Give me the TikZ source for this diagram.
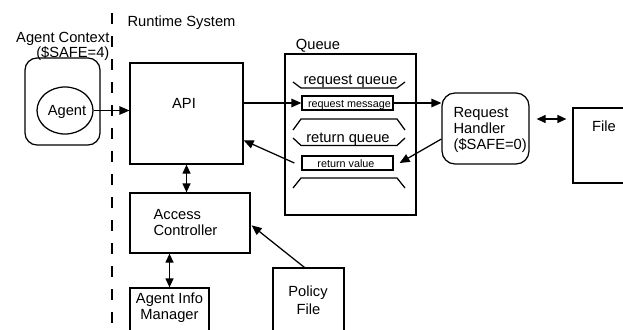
\documentclass[tikz,border=0pt]{standalone}
\usepackage{fontspec}
\setmainfont{Liberation Sans}
\usetikzlibrary{arrows.meta,shapes.geometric,calc}
\begin{document}
\begin{tikzpicture}[x=1pt,y=-1pt,
  line width=1.25pt,
  box/.style={draw, rectangle, inner sep=0pt},
  rbox/.style={draw, rectangle, rounded corners=13pt, inner sep=0pt},
  txt/.style={font=\fontsize{14.7}{16}\selectfont, inner sep=0pt, anchor=base},
  ltxt/.style={txt, anchor=base west},
  rtxt/.style={txt, anchor=base east},
  stxt/.style={font=\fontsize{10.8}{12}\selectfont, inner sep=0pt, anchor=base},
  arr/.style={-{Triangle[length=10pt,width=8.5pt]}},
  darr/.style={{Triangle[length=9pt,width=8pt]}-{Triangle[length=9pt,width=8pt]}},
]
\useasboundingbox (0,0) rectangle (623,329);
\clip (0,0) rectangle (623,329);

% boundary of runtime system
\coordinate (dtop) at (112,13);
\coordinate (dbot) at (112,329);
\draw[dash pattern=on 11pt off 12pt] (dtop) -- (dbot);
\node[ltxt] (rt) at (127,26.5) {Runtime System};

% agent context
\node[rtxt] (ctx1) at (110,42) {Agent Context};
\node[rtxt] (ctx2) at (110,57) {(\$SAFE=4)};
\node[rbox, rounded corners=12pt, minimum width=75pt, minimum height=87pt] (ctx) at (62.5,101.5) {};
\node[draw, ellipse, minimum width=56pt, minimum height=47pt, inner sep=0pt] (agent) at (65,110.5) {};
\node[txt] (agentt) at (67,115.5) {Agent};

% API
\node[box, minimum width=113pt, minimum height=101pt] (api) at (186.5,113.5) {};
\node[txt] (apit) at (184,108.3) {API};

% Queue
\node[txt] (queuet) at (318,49.5) {Queue};
\node[box, minimum width=131pt, minimum height=161pt] (queue) at (350.5,134.5) {};
\draw (293,82) -- (301,88) -- (397,88) -- (405,82);
\node[txt] (rqt) at (350.5,84) {request queue};
\node[box, minimum width=91pt, minimum height=14pt] (reqmsg) at (347.5,103) {};
\node[stxt] (reqmsgt) at (349.5,107) {request message};
\draw (293,130) -- (301,119) -- (397,119) -- (405,130);
\node[txt] (retqt) at (348,142) {return queue};
\draw (293,138) -- (301,145.5) -- (397,145.5) -- (405,138);
\node[box, minimum width=91pt, minimum height=14pt] (retval) at (347.5,163) {};
\node[stxt] (retvalt) at (346,167.5) {return value};
\draw (293,188) -- (301,178) -- (397,178) -- (405,188);

% Request handler
\node[rbox, minimum width=87pt, minimum height=71pt] (handler) at (485.5,128.5) {};
\node[ltxt] (h1) at (453,117) {Request};
\node[ltxt] (h2) at (453,133) {Handler};
\node[ltxt] (h3) at (453,149) {(\$SAFE=0)};

% File
\node[box, minimum width=60pt, minimum height=75pt] (file) at (603,145.5) {};
\node[txt] (filet) at (604,131.7) {File};

% Access controller
\node[box, minimum width=120pt, minimum height=60pt] (ac) at (190,223) {};
\node[ltxt] (ac1) at (153,219) {Access};
\node[ltxt] (ac2) at (153,235) {Controller};

% Agent info manager
\node[box, minimum width=79pt, minimum height=52pt] (aim) at (169.5,314) {};
\node[txt] (aim1) at (169.5,303) {Agent Info};
\node[txt] (aim2) at (169.5,319.5) {Manager};

% Policy file
\node[box, minimum width=71pt, minimum height=72pt] (policy) at (308.5,304) {};
\node[txt] (p1) at (308,296) {Policy};
\node[txt] (p2) at (308.5,314) {File};

% connectors
\draw[arr] (agent.east) -- (agent.east -| api.west);
\draw[arr] (reqmsg.west -| api.east) -- (reqmsg.west);
\draw[arr] (reqmsg.east) -- (reqmsg.east -| handler.west);
\draw[arr] ([yshift=-10.5pt]handler.west) -- ([xshift=6pt]retval.east);
\draw[arr] ([xshift=-7pt]retval.west) -- ($(api.north east)!0.762!(api.south east)$);
\draw[darr] (api.south) -- (api.south |- ac.north);
\draw[darr] (aim.north) -- (aim.north |- ac.south);
\draw[darr] ($(handler.east)+(7,-9.5)$) -- ($(file.west |- handler.east)+(-6,-9.5)$);
\draw[arr] ($(policy.north west)+(32,0)$) -- ($(ac.north east)+(1,33)$);
\end{tikzpicture}
\end{document}
